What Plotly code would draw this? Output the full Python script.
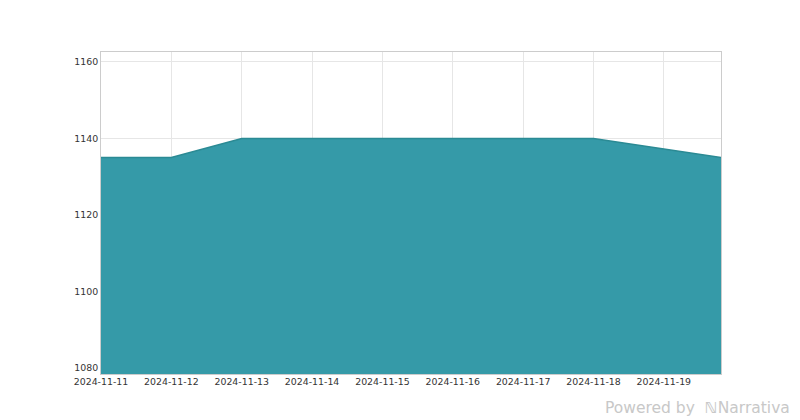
import plotly.graph_objects as go

dates = ["2024-11-11", "2024-11-12", "2024-11-13", "2024-11-14", "2024-11-15",
         "2024-11-16", "2024-11-17", "2024-11-18", "2024-11-19 19:30"]
values = [1135, 1135, 1140, 1140, 1140, 1140, 1140, 1140, 1135]
tick_vals = ["2024-11-11", "2024-11-12", "2024-11-13", "2024-11-14", "2024-11-15",
             "2024-11-16", "2024-11-17", "2024-11-18", "2024-11-19"]
y_ticks = [1080, 1100, 1120, 1140, 1160]
y_range = [1078.4, 1162.6]

fig = go.Figure()
fig.add_trace(go.Scatter(
    x=dates, y=values, mode="lines",
    line=dict(color="#2b8a94", width=1.5),
    fill="tozeroy", fillcolor="rgb(53,154,168)",
    hoverinfo="skip",
))

fig.update_layout(
    width=800, height=420,
    margin=dict(l=93, r=87, t=44, b=54),
    paper_bgcolor="white", plot_bgcolor="white",
    showlegend=False,
    font=dict(family="DejaVu Sans", size=9.4, color="#333"),
    xaxis=dict(
        type="date", range=[dates[0], dates[-1]],
        tickvals=tick_vals, ticktext=tick_vals,
        showgrid=True, gridcolor="#e6e6e6", gridwidth=1,
        showline=True, linecolor="#cccccc", mirror=True,
        ticks="", tickfont=dict(size=9.4), ticklabelstandoff=-1,
    ),
    yaxis=dict(
        range=y_range, tickvals=y_ticks,
        showgrid=True, gridcolor="#e6e6e6", gridwidth=1,
        showline=True, linecolor="#cccccc", mirror=True,
        ticks="", zeroline=False, tickfont=dict(size=9.4),
    ),
)
fig.add_annotation(
    text="Powered by  <b>\u2115</b>Narrativa",
    xref="paper", yref="paper", x=1.115, y=-0.140,
    xanchor="right", yanchor="bottom", showarrow=False,
    font=dict(size=15.5, color="#c8c8c8", family="DejaVu Sans"),
)

fig.write_html("out.html")
